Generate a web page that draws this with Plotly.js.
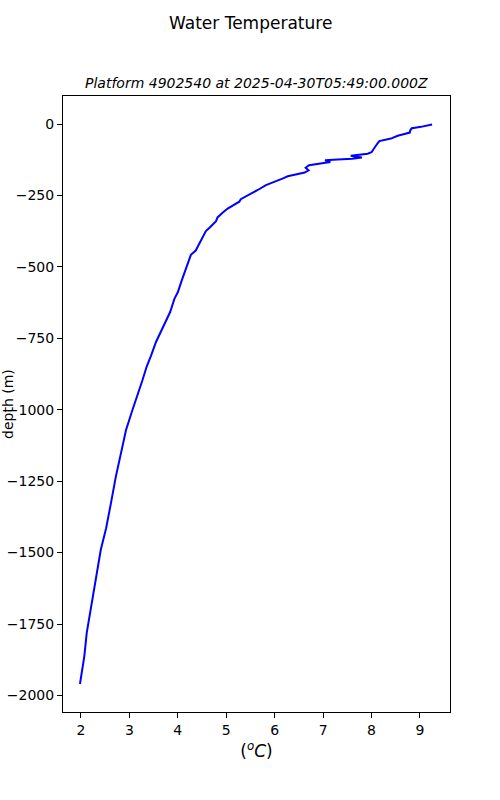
<!DOCTYPE html>
<html>
<head>
<meta charset="utf-8">
<script src="https://cdn.plot.ly/plotly-3.0.1.min.js"></script>
<style>body{margin:0;padding:0;background:#fff}#chart{width:500px;height:800px}</style>
</head>
<body>
<div id="chart"></div>
<script>
const temperature = [9.25, 9.20, 9.16, 9.02, 8.90, 8.83, 8.80, 8.79, 8.68, 8.54, 8.40, 8.26, 8.16, 8.11, 8.06, 8.00, 7.92, 7.78, 7.64, 7.57, 7.80, 7.60, 7.30, 7.04, 7.15, 7.01, 6.71, 6.64, 6.70, 6.62, 6.52, 6.40, 6.27, 6.16, 5.99, 5.82, 5.65, 5.51, 5.40, 5.30, 5.27, 5.17, 5.10, 5.03, 4.93, 4.82, 4.79, 4.72, 4.66, 4.58, 4.50, 4.41, 4.37, 4.27, 4.22, 4.17, 4.12, 4.08, 4.00, 3.93, 3.84, 3.76, 3.65, 3.55, 3.45, 3.36, 3.27, 3.17, 3.05, 2.93, 2.83, 2.72, 2.62, 2.52, 2.41, 2.31, 2.21, 2.12, 2.07, 2.02, 1.98];
const depth = [-2, -4, -6, -10, -13, -15, -22, -30, -35, -41, -51, -57, -60, -71, -85, -99, -104, -107, -109, -111, -117, -122, -124, -127, -133, -137, -144, -153, -162, -170, -173, -179, -183, -191, -202, -214, -231, -244, -253, -263, -272, -281, -290, -296, -310, -327, -340, -350, -362, -375, -400, -430, -443, -458, -480, -502, -525, -548, -589, -612, -659, -688, -728, -763, -810, -848, -897, -944, -1008, -1072, -1147, -1235, -1327, -1415, -1490, -1595, -1688, -1781, -1863, -1910, -1960];
const xTicks = [2, 3, 4, 5, 6, 7, 8, 9];
const yTicks = [0, -250, -500, -750, -1000, -1250, -1500, -1750, -2000];

const font = 'DejaVu Sans, sans-serif';
const axisCommon = {
  showgrid: false, zeroline: false, showline: true, mirror: true,
  linecolor: '#000', linewidth: 1, ticks: 'outside', ticklen: 5, tickwidth: 1,
  tickcolor: '#000', tickfont: {family: font, size: 14, color: '#000'}
};
const layout = {
  width: 500, height: 800,
  margin: {l: 63, r: 50, t: 96, b: 88},
  paper_bgcolor: '#fff', plot_bgcolor: '#fff',
  showlegend: false,
  xaxis: Object.assign({}, axisCommon, {
    range: [1.63, 9.62], tickvals: xTicks, ticktext: xTicks.map(String),
    title: {text: '(<i><sup>o</sup>C</i>)', font: {family: font, size: 17, color: '#000'}, standoff: 8}
  }),
  yaxis: Object.assign({}, axisCommon, {
    range: [-2058, 98], tickvals: yTicks
  }),
  annotations: [
    {text: 'Water Temperature', xref: 'paper', yref: 'paper', x: (250 - 63) / 387, y: (712 - 23) / 616,
     xanchor: 'center', yanchor: 'middle', showarrow: false, font: {family: font, size: 17, color: '#000'}},
    {text: '<i>Platform 4902540 at 2025-04-30T05:49:00.000Z</i>', xref: 'paper', yref: 'paper', x: 0.5, y: (712 - 83) / 616,
     xanchor: 'center', yanchor: 'middle', showarrow: false, font: {family: font, size: 14, color: '#000'}},
    {text: 'depth (m)', xref: 'paper', yref: 'paper', x: (8 - 63) / 387, y: 0.5, textangle: -90,
     xanchor: 'center', yanchor: 'middle', showarrow: false, font: {family: font, size: 14, color: '#000'}}
  ]
};
Plotly.newPlot('chart', [{
  x: temperature, y: depth, type: 'scatter', mode: 'lines',
  line: {color: '#0000ff', width: 2}
}], layout, {staticPlot: true});
</script>
</body>
</html>
